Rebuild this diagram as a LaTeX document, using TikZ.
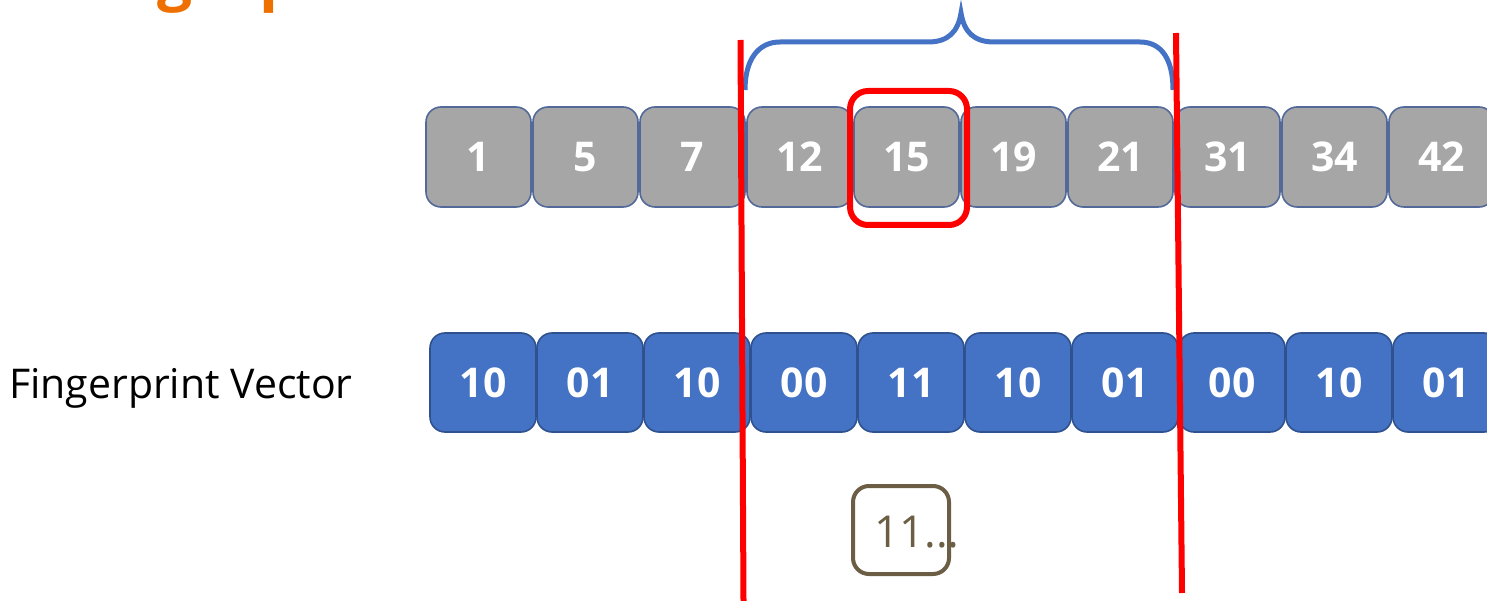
\documentclass[tikz,border=0pt]{standalone}
\usepackage{fontspec}
\setmainfont{Open Sans}
\begin{document}
\begin{tikzpicture}[x=1pt,y=-1pt,
  graycell/.style={draw=cellgrayedge, fill=cellgray, line width=1.6pt, rounded corners=15pt,
    minimum width=105pt, minimum height=100pt, inner sep=0pt, text=white, font=\fontsize{41}{41}\selectfont\bfseries},
  bluecell/.style={draw=cellblueedge, fill=cellblue, line width=1.6pt, rounded corners=15pt,
    minimum width=106pt, minimum height=99pt, inner sep=0pt, text=white, font=\fontsize{41}{41}\selectfont\bfseries},
  redline/.style={draw=red, line width=6pt},
  bracestyle/.style={draw=braceblue, line width=5pt},
  resultbox/.style={draw=resbrown, line width=4pt, rounded corners=16pt, minimum width=96pt, minimum height=88pt, inner sep=0pt},
  resulttext/.style={text=resbrown, font=\fontsize{44}{44}\selectfont, inner sep=0pt},
  titletext/.style={text=titleorange, font=\fontsize{62}{62}\selectfont\bfseries, inner sep=0pt},
  labeltext/.style={text=black, font=\fontsize{41}{41}\selectfont, inner sep=0pt}
]
\definecolor{cellgray}{HTML}{A6A6A6}
\definecolor{cellgrayedge}{HTML}{52699A}
\definecolor{cellblue}{HTML}{4472C4}
\definecolor{cellblueedge}{HTML}{2F528F}
\definecolor{braceblue}{HTML}{4472C4}
\definecolor{resbrown}{HTML}{6B5E45}
\definecolor{titleorange}{HTML}{EE7000}

\useasboundingbox (0,0) rectangle (1487,601);
\clip (0,0) rectangle (1487,601);

% heading, only its descenders fall inside the frame
\node[titletext, anchor=base west] (tg) at (157,-1) {g};
\node[titletext, anchor=base west] (tp) at (259,-1) {p};

% sorted key array
\foreach \v [count=\i from 0] in {1,5,7,12,15,19,21,31,34,42} {
  \node[graycell] (k\i) at ({478.5+107*\i},157) {\v};
}

% fingerprint vector
\node[labeltext, anchor=base west] (fvlabel) at (9,398) {Fingerprint Vector};
\foreach \v [count=\i from 0] in {10,01,10,00,11,10,01,00,10,01} {
  \node[bluecell] (f\i) at ({483+107*\i},382.5) {\v};
}

% brace over the scanned window
\coordinate (bl) at (745,90);
\coordinate (br) at (1173,90);
\coordinate (btip) at (961,13);
\draw[bracestyle] (bl) .. controls (745,60) and (758,42) .. (780,42) -- (928,42)
  .. controls (948,42) and (958,32) .. (btip)
  .. controls (964,32) and (974,42) .. (994,42) -- (1140,42)
  .. controls (1162,42) and (br |- 0,60) .. (br);

% highlighted key
\draw[draw=red, line width=6pt, rounded corners=18pt] (850,91) rectangle (967,225);

% window boundaries
\coordinate (la) at (740.5,40);
\coordinate (lb) at (743.5,601);
\coordinate (ra) at (1176,33);
\coordinate (rb) at (1182,593);
\draw[redline] (la) -- (lb);
\draw[redline] (ra) -- (rb);

% query fingerprint
\node[resultbox] (res) at (901,530) {};
\node[resulttext, anchor=base west] (restxt) at (874,547) {11...};
\end{tikzpicture}
\end{document}
